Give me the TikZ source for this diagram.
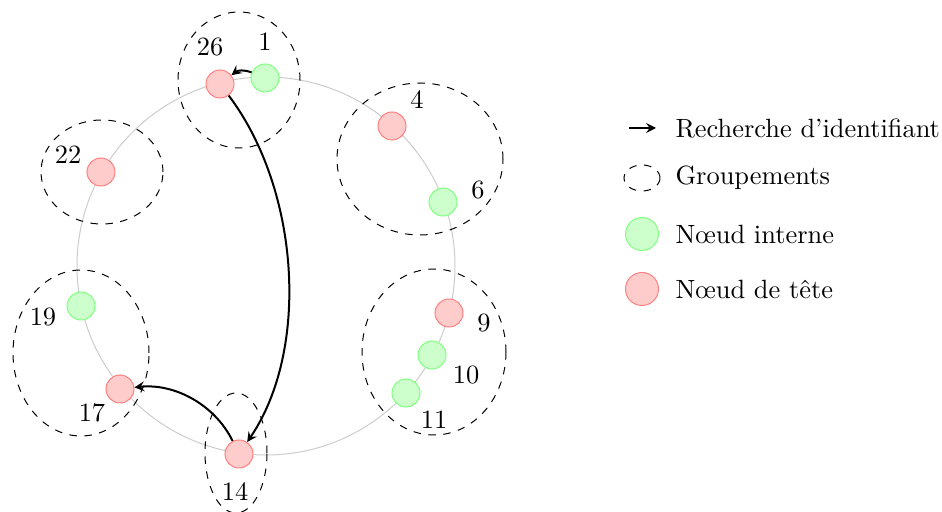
\documentclass[tikz,border=0pt]{standalone}
\usetikzlibrary{arrows.meta}
\begin{document}
\begin{tikzpicture}[x=0.4pt,y=-0.4pt,
  every node/.style={font=\fontsize{10.56}{12.7}\selectfont},
  inode/.style={circle,draw=green!50,fill=green!20,minimum size=28*0.4pt,inner sep=0pt},
  hnode/.style={circle,draw=red!50,fill=red!20,minimum size=28*0.4pt,inner sep=0pt},
  linode/.style={circle,draw=green!50,fill=green!20,minimum size=33*0.4pt,inner sep=0pt},
  lhnode/.style={circle,draw=red!50,fill=red!20,minimum size=33*0.4pt,inner sep=0pt},
  grp/.style={dashed,draw=black},
  lookup/.style={thick,-{Stealth[length=4pt,width=4pt,inset=1.5pt]}},
  lbl/.style={inner sep=0pt},
  ltxt/.style={anchor=west,inner sep=0pt}]
\useasboundingbox (0,0) rectangle (942,512);
% ring
\draw[black!20] (266,266) circle[radius=189*0.4pt];
% groups
\draw[grp] (239,80) ellipse[x radius=61*0.4pt,y radius=68*0.4pt];
\draw[grp] (420,159) ellipse[x radius=83*0.4pt,y radius=76*0.4pt];
\draw[grp] (102,172) ellipse[x radius=61*0.4pt,y radius=52*0.4pt];
\draw[grp] (81,353) ellipse[x radius=68*0.4pt,y radius=83*0.4pt];
\draw[grp] (434,352) ellipse[x radius=72*0.4pt,y radius=83*0.4pt];
\draw[grp] (236,453) ellipse[x radius=31*0.4pt,y radius=60*0.4pt];
% nodes
\node[inode] (n1) at (265,78) {};
\node[hnode] (n26) at (220,84) {};
\node[hnode] (n4) at (392,126) {};
\node[inode] (n6) at (443,202) {};
\node[hnode] (n9) at (449,313) {};
\node[inode] (n10) at (432,355) {};
\node[inode] (n11) at (406,393) {};
\node[hnode] (n14) at (239,454) {};
\node[hnode] (n17) at (120,389) {};
\node[inode] (n19) at (81,306) {};
\node[hnode] (n22) at (101,172) {};
% labels
\node[lbl] (l26) at (210,47) {26};
\node[lbl] (l1) at (265,42) {1};
\node[lbl] (l4) at (417,100) {4};
\node[lbl] (l6) at (478,190) {6};
\node[lbl] (l22) at (68,155) {22};
\node[lbl] (l19) at (43,317) {19};
\node[lbl] (l17) at (92,413) {17};
\node[lbl] (l14) at (235,492) {14};
\node[lbl] (l9) at (484,323) {9};
\node[lbl] (l10) at (466,375) {10};
\node[lbl] (l11) at (434,420) {11};
% lookups
\draw[lookup] (n1) to[bend right=30] (n26);
\draw[lookup] (n26) .. controls (300,190) and (310,350) .. (n14);
\draw[lookup] (n14) .. controls (215,405) and (175,383) .. (n17);
% legend
\coordinate (la) at (629,128);
\coordinate (lb) at (656,128);
\draw[lookup] (la) -- (lb);
\node[ltxt] (t1) at (675,128) {Recherche d'identifiant};
\draw[grp] (642,178) ellipse[x radius=18*0.4pt,y radius=13*0.4pt];
\node[ltxt] (t2) at (675,178) {Groupements};
\node[linode] (lg) at (642,234) {};
\node[ltxt] (t3) at (675,234) {N\oe ud interne};
\node[lhnode] (lr) at (642,289) {};
\node[ltxt] (t4) at (675,289) {N\oe ud de t\^ete};
\end{tikzpicture}
\end{document}
